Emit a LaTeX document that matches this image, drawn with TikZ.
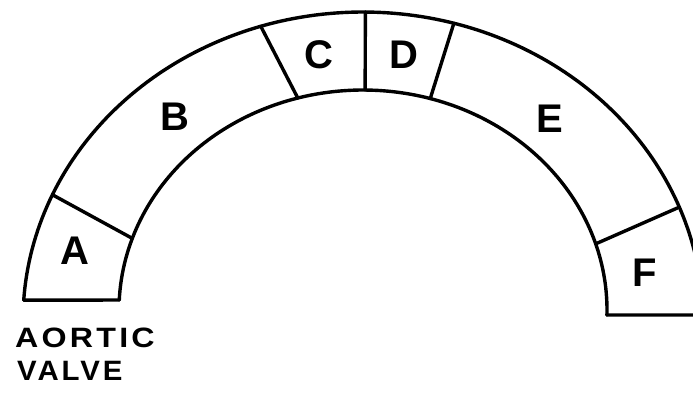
\documentclass[tikz,border=0pt]{standalone}
\usepackage{fontspec}
\setmainfont{Liberation Sans}
\begin{document}
\begin{tikzpicture}[x=1pt,y=-1pt,
  wall/.style={line width=3.4pt,line join=round,line cap=round},
  seg/.style={font=\fontsize{40}{40}\selectfont\bfseries,inner sep=0pt},
  captext/.style={font=\fontsize{28}{28}\selectfont\bfseries\addfontfeatures{LetterSpace=10},inner sep=0pt,anchor=west}]
\useasboundingbox (0,0) rectangle (693,392);
\clip (0,0) rectangle (693,392);
% outer and inner arcs
\draw[wall] plot[domain=-3:176.3,samples=150] ({363+340*cos(\x)},{320-308*sin(\x)});
\draw[wall] plot[domain=-1.3:177.4,samples=150] ({363+244*cos(\x)},{310-220*sin(\x)});
% end points
\coordinate (lo) at ({363+340*cos(176.3)},{320-308*sin(176.3)});
\coordinate (li) at ({363+244*cos(177.4)},{310-220*sin(177.4)});
\coordinate (ri) at ({363+244*cos(-1.3)},{310-220*sin(-1.3)});
\coordinate (re) at (700,315);
% dividers
\coordinate (abo) at ({363+340*cos(156)},{320-308*sin(156)});
\coordinate (abi) at ({363+244*cos(161)},{310-220*sin(161)});
\coordinate (bco) at ({363+340*cos(107.5)},{320-308*sin(107.5)});
\coordinate (bci) at ({363+244*cos(105.5)},{310-220*sin(105.5)});
\coordinate (cdo) at ({363+340*cos(89.6)},{320-308*sin(89.6)});
\coordinate (cdi) at ({363+244*cos(89.5)},{310-220*sin(89.5)});
\coordinate (deo) at ({363+340*cos(74.5)},{320-308*sin(74.5)});
\coordinate (dei) at ({363+244*cos(74)},{310-220*sin(74)});
\coordinate (efo) at ({363+340*cos(21.5)},{320-308*sin(21.5)});
\coordinate (efi) at ({363+244*cos(17.5)},{310-220*sin(17.5)});
\draw[wall] (lo) -- (li);
\draw[wall] (ri) -- (re);
\draw[wall] (abo) -- (abi);
\draw[wall] (bco) -- (bci);
\draw[wall] (cdo) -- (cdi);
\draw[wall] (deo) -- (dei);
\draw[wall] (efo) -- (efi);
% labels
\node[seg] (A) at (75,251) {A};
\node[seg] (B) at (175,117) {B};
\node[seg] (C) at (319,55) {C};
\node[seg] (D) at (404,55) {D};
\node[seg] (E) at (550,119) {E};
\node[seg] (F) at (645,273) {F};
\node[captext] (aortic) at (15,338) {\scalebox{1.15}[1]{AORTIC}};
\node[captext] (valve) at (17,371) {\scalebox{1.05}[1]{VALVE}};
\end{tikzpicture}
\end{document}
